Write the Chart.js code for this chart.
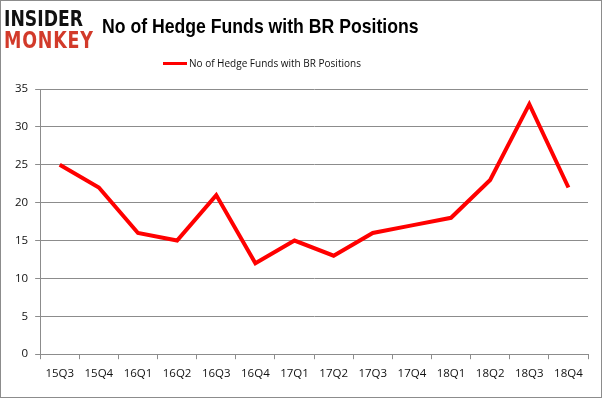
<!DOCTYPE html>
<html>
<head>
<meta charset="utf-8">
<script src="https://cdn.jsdelivr.net/npm/chart.js@4/dist/chart.umd.min.js"></script>
<style>
  html, body { margin: 0; padding: 0; background: #fff; }
  #frame {
    position: relative; width: 602px; height: 398px;
    box-sizing: border-box; border: 1px solid #8c8c8c; overflow: hidden;
  }
  .logo { position: absolute; left: 3px; font-family: "DejaVu Sans", sans-serif; font-weight: bold; white-space: nowrap; transform-origin: left top; line-height: 1; }
  #logoA { top: 8px; color: #111; font-size: 21px; transform: scaleX(0.82); }
  #logoB { top: 28px; color: #d23a2a; font-size: 23px; letter-spacing: 1px; transform: scaleX(0.76); }
  #title {
    position: absolute; left: 101px; top: 14px; line-height: 21px;
    font-family: "Liberation Sans", Arial, sans-serif; font-weight: bold; font-size: 21px; color: #000;
    white-space: nowrap; transform: scaleX(0.84); transform-origin: left top;
  }
  #legend {
    position: absolute; left: 162px; top: 55px; height: 16px;
    font-family: "Open Sans", sans-serif; font-size: 10px; color: #111; white-space: nowrap;
  }
  #legend .swatch { display: inline-block; width: 24px; height: 3px; background: #ff0000; vertical-align: middle; margin-right: 2px; position: relative; top: -1px; }
  #wrap { position: absolute; left: 0; top: 0; width: 600px; height: 396px; }
</style>
</head>
<body>
<div id="frame">
  <div id="wrap"><canvas id="lineGraph"></canvas></div>
  <div class="logo" id="logoA">INSIDER</div>
  <div class="logo" id="logoB">MONKEY</div>
  <div id="title">No of Hedge Funds with BR Positions</div>
  <div id="legend"><span class="swatch"></span>No of Hedge Funds with BR Positions</div>
</div>
<script>
// data
const quarters = ["15Q3", "15Q4", "16Q1", "16Q2", "16Q3", "16Q4", "17Q1", "17Q2", "17Q3", "17Q4", "18Q1", "18Q2", "18Q3", "18Q4"];
const hedgeFunds = [25, 22, 16, 15, 21, 12, 15, 13, 16, 17, 18, 23, 33, 22];
const yTicks = [0, 5, 10, 15, 20, 25, 30, 35];

const tickFont = { family: "Open Sans", size: 11.5 };

const lineData = {
    labels: quarters,
    datasets: [{
        label: "No of Hedge Funds with BR Positions",
        borderColor: "rgb(255, 0, 0)",
        backgroundColor: "rgb(255, 0, 0)",
        borderWidth: 4,
        pointRadius: 0,
        tension: 0,
        data: hedgeFunds
    }]
};

const lineConfig = {
    type: "line",
    data: lineData,
    options: {
        responsive: true,
        maintainAspectRatio: false,
        animation: false,
        layout: { padding: { top: 88, right: 13, bottom: 8, left: 7 } },
        plugins: {
            legend: { display: false },
            title: { display: false },
            tooltip: { enabled: false }
        },
        scales: {
            x: {
                offset: true,
                grid: { offset: true, drawOnChartArea: false, drawTicks: true, tickLength: 5, color: "#8c8c8c" },
                border: { color: "#8c8c8c" },
                ticks: { color: "#111", font: tickFont, maxRotation: 0, padding: 8 }
            },
            y: {
                min: yTicks[0],
                max: yTicks[yTicks.length - 1],
                afterBuildTicks: function (axis) { axis.ticks = yTicks.map(v => ({ value: v })); },
                grid: { color: "#8c8c8c", drawTicks: true, tickLength: 5 },
                border: { color: "#8c8c8c" },
                ticks: { color: "#111", font: tickFont, padding: 7 }
            }
        }
    }
};

new Chart(document.getElementById("lineGraph"), lineConfig);
</script>
</body>
</html>
